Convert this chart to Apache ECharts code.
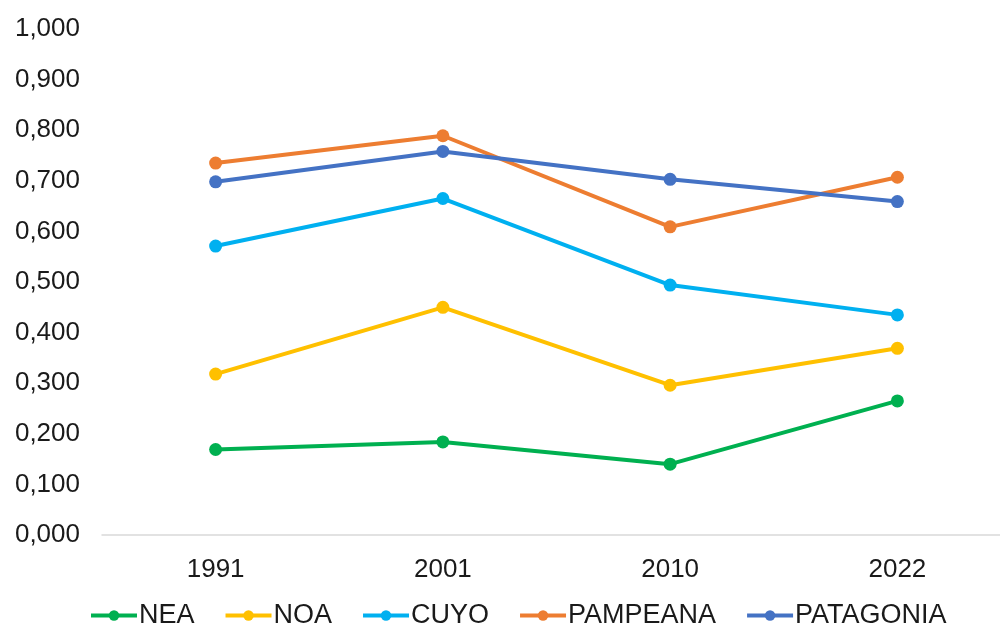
<!DOCTYPE html>
<html>
<head>
<meta charset="utf-8">
<script src="https://cdn.jsdelivr.net/npm/echarts@6/dist/echarts.min.js"></script>
<style>html,body{margin:0;padding:0;background:#fff;}#c{width:1000px;height:628px;}</style>
</head>
<body>
<div id="c"></div>
<script>
const years = ['1991', '2001', '2010', '2022'];
const seriesNames = ['NEA', 'NOA', 'CUYO', 'PAMPEANA', 'PATAGONIA'];
const nea = [0.169, 0.184, 0.140, 0.265];
const noa = [0.318, 0.450, 0.296, 0.369];
const cuyo = [0.571, 0.665, 0.494, 0.435];
const pampeana = [0.735, 0.789, 0.609, 0.707];
const patagonia = [0.698, 0.758, 0.703, 0.659];
const colors = ['#00B050', '#FFC000', '#00B0F0', '#ED7D31', '#4472C4'];

const dataSets = [nea, noa, cuyo, pampeana, patagonia];
const chart = echarts.init(document.getElementById('c'));
chart.setOption({
  animation: false,
  backgroundColor: '#fff',
  textStyle: { fontFamily: 'Liberation Sans, Arial, sans-serif' },
  grid: { left: 102, width: 909, top: 29, bottom: 93, containLabel: false, outerBoundsMode: 'none' },
  legend: {
    left: 84, top: 597,
    itemWidth: 46, itemHeight: 13, itemGap: 29,
    lineStyle: { width: 4 },
    textStyle: { fontSize: 27, color: '#1a1a1a', fontFamily: 'Liberation Sans, Arial, sans-serif', padding: [0, 0, 0, -3] },
    data: seriesNames
  },
  xAxis: {
    type: 'category', data: years, boundaryGap: true,
    axisLine: { lineStyle: { color: '#d9d9d9', width: 1.5 } },
    axisTick: { show: false },
    axisLabel: { fontSize: 26, color: '#1a1a1a', margin: 22 }
  },
  yAxis: {
    type: 'value', min: 0, max: 1, interval: 0.1,
    axisLine: { show: false }, axisTick: { show: false },
    splitLine: { show: false },
    axisLabel: { fontSize: 26, color: '#1a1a1a', margin: 22,
      formatter: v => v.toFixed(3).replace('.', ',') }
  },
  series: seriesNames.map((n, i) => ({
    name: n, type: 'line', data: dataSets[i],
    color: colors[i],
    symbol: 'circle', symbolSize: 13,
    lineStyle: { width: 4, color: colors[i] },
    itemStyle: { color: colors[i] }
  }))
});
</script>
</body>
</html>
